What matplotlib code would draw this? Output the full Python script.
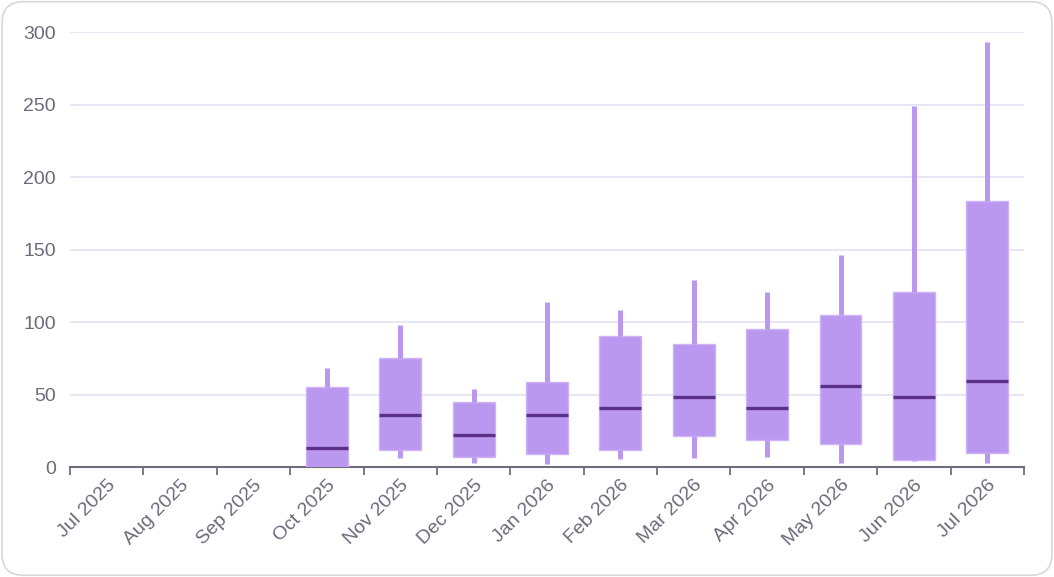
import matplotlib.pyplot as plt
from matplotlib.patches import FancyBboxPatch

months = ["Jul 2025", "Aug 2025", "Sep 2025", "Oct 2025", "Nov 2025", "Dec 2025",
          "Jan 2026", "Feb 2026", "Mar 2026", "Apr 2026", "May 2026", "Jun 2026", "Jul 2026"]
low = [None, None, None, 0, 6, 3, 2, 5.5, 6, 7, 2.5, 4, 3]
q1 = [None, None, None, 0, 11.5, 7, 9, 12, 21.5, 18.5, 16, 5, 9.5]
median = [None, None, None, 13.3, 36, 22, 36, 41, 48, 41, 56, 48, 59]
q3 = [None, None, None, 55.5, 75, 45, 58.5, 90.5, 85, 95, 104.5, 120.5, 183.5]
high = [None, None, None, 68, 98, 54, 114, 108, 129, 121, 146.5, 249, 293]

BOX = "#bb98f0"
MED = "#5b3187"
TEXT = "#6b6b7b"

plt.rcParams['font.family'] = ['Liberation Sans', 'DejaVu Sans']

fig = plt.figure(figsize=(10.54, 5.77), dpi=100)
ax = fig.add_axes([0.0664, 0.1906, 0.9051, 0.7539])

# rounded card border
fig.patches.append(FancyBboxPatch((0.002, 0.003), 0.996, 0.994, boxstyle="round,pad=0,rounding_size=0.02",
                                  transform=fig.transFigure, fill=False, ec="#d8d8d8", lw=1.2,
                                  mutation_aspect=1054 / 577))

stats = []
positions = []
for i, m in enumerate(months):
    if median[i] is None:
        continue
    stats.append(dict(med=median[i], q1=q1[i], q3=q3[i], whislo=low[i], whishi=high[i], fliers=[]))
    positions.append(i)

ax.bxp(stats, positions=positions, widths=0.57, patch_artist=True, showcaps=False, showfliers=False,
       boxprops=dict(facecolor=BOX, edgecolor="#cfb3f7", lw=1),
       whiskerprops=dict(color=BOX, lw=3.6, solid_capstyle="butt"),
       medianprops=dict(color=MED, lw=2.4, solid_capstyle="butt"),
       zorder=3)

ax.set_xlim(-0.5, len(months) - 0.5)
ax.set_ylim(0, 300)
ax.set_yticks(range(0, 301, 50))
ax.set_xticks(range(len(months)))
ax.set_xticklabels(months, rotation=45, ha="right", rotation_mode="anchor")
ax.set_xticks([i - 0.5 for i in range(len(months) + 1)], minor=True)
ax.tick_params(axis="x", which="major", length=0, pad=7, labelsize=14, labelcolor=TEXT)
ax.tick_params(axis="x", which="minor", length=5.5, width=1.3, color="#6e6e7a")
ax.tick_params(axis="y", length=0, pad=10, labelsize=14, labelcolor=TEXT)

ax.grid(axis="y", color="#e2e2f2", lw=1.2, zorder=0)
ax.set_axisbelow(True)
for s in ["top", "right", "left"]:
    ax.spines[s].set_visible(False)
ax.spines["bottom"].set_color("#6e6e7a")
ax.spines["bottom"].set_linewidth(1.5)

fig.savefig("out.png", dpi=100)
